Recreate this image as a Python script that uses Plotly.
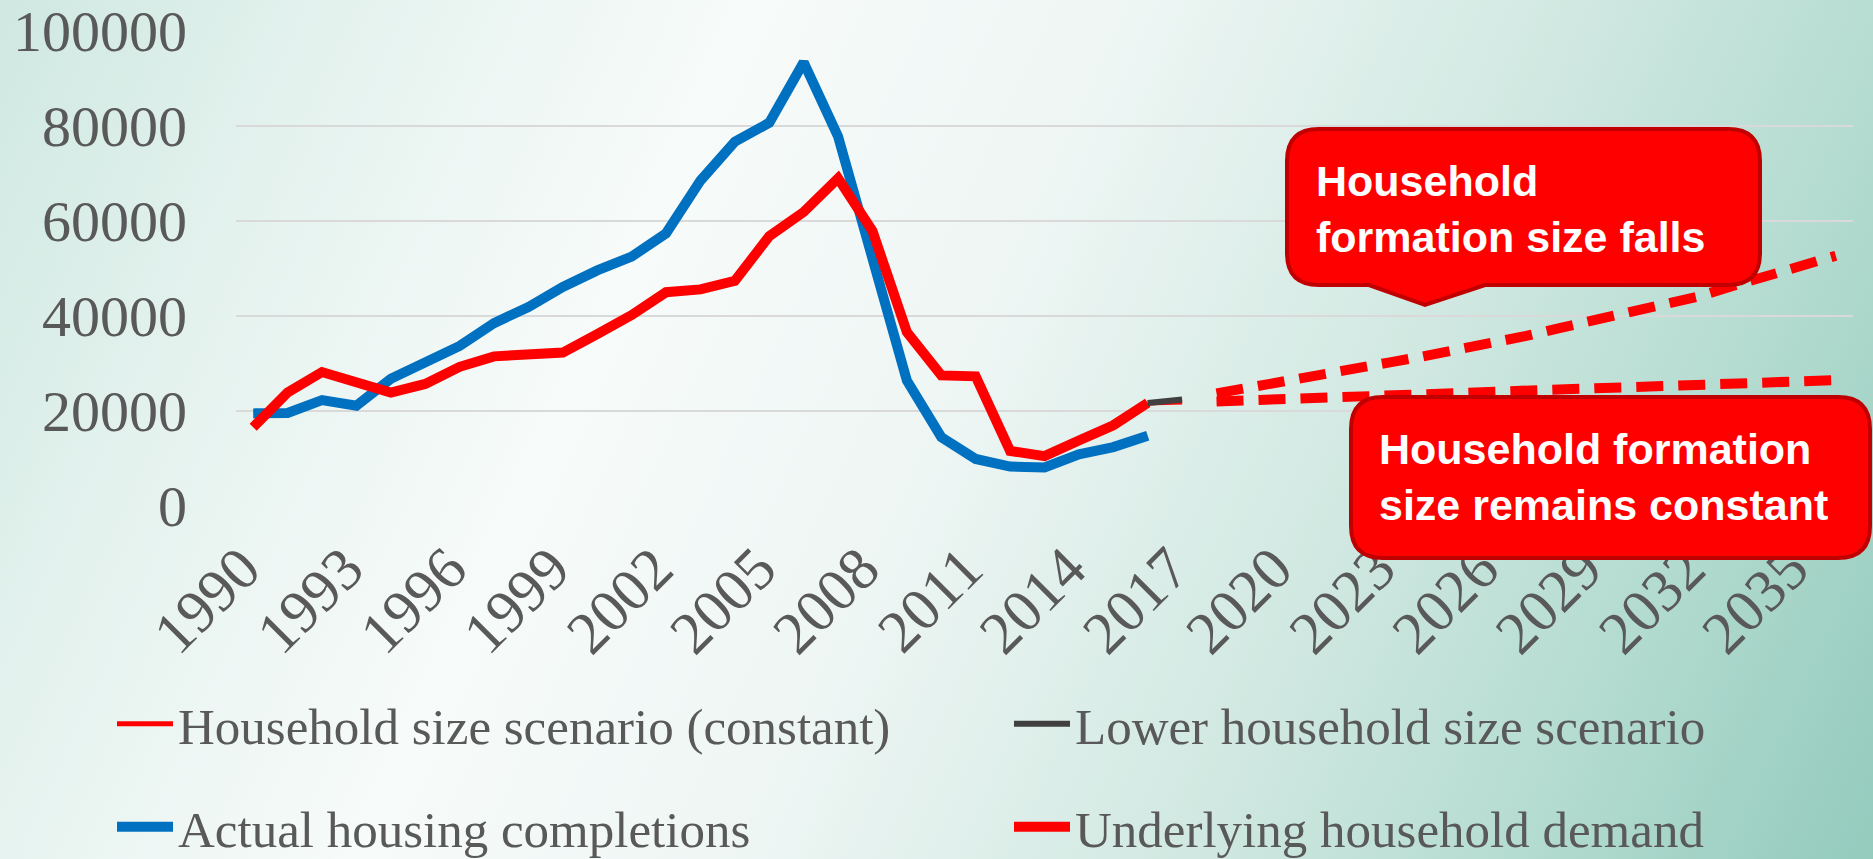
import base64
import plotly.graph_objects as go

# ---------------- data ----------------
years_hist = list(range(1990, 2017))
actual_completions = [19500, 19600, 22300, 21100, 26800, 30500, 33700, 38500, 41900, 46100,
                      49600, 52500, 57400, 68500, 76700, 80700, 93400, 77800, 51700, 26400,
                      14500, 9900, 8300, 8100, 10900, 12400, 14800]
underlying_demand = [16600, 23900, 28200, 26100, 23900, 25700, 29300, 31500, 32000, 32300,
                     36200, 40200, 45000, 45600, 47400, 56800, 61900, 69000, 57900, 36600,
                     27500, 27300, 11600, 10500, 13800, 17000, 21700]

years_bridge = [2016, 2017]
constant_bridge = [21700, 21900]
lower_bridge = [21700, 22400]

years_proj = list(range(2018, 2037))
lower_proj = [23700, 24900, 26200, 27500, 28800, 30200, 31500, 32800, 34300, 35800,
              37500, 39100, 40600, 42300, 44100, 46300, 48500, 50600, 52700]
constant_proj = [22000, 22300, 22500, 22800, 23000, 23300, 23500, 23800, 24000, 24300,
                 24500, 24800, 25000, 25300, 25500, 25800, 26000, 26300, 26500]

tick_years = list(range(1990, 2036, 3))
tick_labels = [str(y) for y in tick_years]
y_ticks = [0, 20000, 40000, 60000, 80000, 100000]

legend_names = ["Household size scenario (constant)", "Lower household size scenario",
                "Actual housing completions", "Underlying household demand"]
callout_falls = "Household<br>formation size falls"
callout_constant = "Household formation<br>size remains constant"

# ---------------- layout geometry ----------------
W, H = 1873, 859
ML, MR, MT, MB = 236, 20, 31, 353
PW, PH = W - ML - MR, H - MT - MB


def px(x):
    return (x - ML) / PW


def py(y):
    return (H - MB - y) / PH


RED = "#ff0000"
BLUE = "#0070c0"
GRAY = "#404040"
TXT = "#595959"

fig = go.Figure()
fig.add_trace(go.Scatter(x=years_hist, y=actual_completions, mode="lines", name=legend_names[2],
                         line=dict(color=BLUE, width=10), legend="legend2"))
fig.add_trace(go.Scatter(x=years_hist, y=underlying_demand, mode="lines", name=legend_names[3],
                         line=dict(color=RED, width=10), legend="legend2"))
fig.add_trace(go.Scatter(x=years_bridge, y=constant_bridge, mode="lines", name=legend_names[0],
                         line=dict(color=RED, width=5), legend="legend"))
fig.add_trace(go.Scatter(x=years_bridge, y=lower_bridge, mode="lines", name=legend_names[1],
                         line=dict(color=GRAY, width=6), legend="legend"))
fig.add_trace(go.Scatter(x=years_proj, y=constant_proj, mode="lines", showlegend=False,
                         line=dict(color=RED, width=10, dash="27px,15px")))
fig.add_trace(go.Scatter(x=years_proj, y=lower_proj, mode="lines", showlegend=False,
                         line=dict(color=RED, width=10, dash="27px,15px")))

# background gradient via svg
svg = f'''<svg xmlns="http://www.w3.org/2000/svg" width="{W}" height="{H}" viewBox="0 0 {W} {H}" preserveAspectRatio="none">
<defs><linearGradient id="g" gradientUnits="userSpaceOnUse" x1="0" y1="0" x2="{W}" y2="{H}">
<stop offset="0" stop-color="#cfe8e1"/>
<stop offset="0.15" stop-color="#e4f2ee"/>
<stop offset="0.33" stop-color="#f7fbfa"/>
<stop offset="0.5" stop-color="#eef6f4"/>
<stop offset="0.7" stop-color="#d0e8e1"/>
<stop offset="0.85" stop-color="#b3dbcf"/>
<stop offset="1" stop-color="#93cbbd"/>
</linearGradient></defs>
<rect x="0" y="0" width="{W}" height="{H}" fill="url(#g)"/></svg>'''
svg_uri = "data:image/svg+xml;base64," + base64.b64encode(svg.encode()).decode()


def rounded_path(x0, y0, x1, y1, r, pointer=None):
    def P(x, y):
        return f"{px(x):.5f},{py(y):.5f}"
    d = f"M{P(x0 + r, y0)} L{P(x1 - r, y0)} Q{P(x1, y0)} {P(x1, y0 + r)} L{P(x1, y1 - r)} Q{P(x1, y1)} {P(x1 - r, y1)}"
    if pointer:
        pr, pl, ax, ay = pointer
        d += f" L{P(pr, y1)} L{P(ax, ay)} L{P(pl, y1)}"
    d += f" L{P(x0 + r, y1)} Q{P(x0, y1)} {P(x0, y1 - r)} L{P(x0, y0 + r)} Q{P(x0, y0)} {P(x0 + r, y0)} Z"
    return d


shapes = [
    dict(type="path", xref="paper", yref="paper", layer="above",
         path=rounded_path(1287, 129, 1760, 285, 32, pointer=(1485, 1369, 1425, 305)),
         fillcolor=RED, line=dict(color="#c00000", width=4)),
    dict(type="path", xref="paper", yref="paper", layer="above",
         path=rounded_path(1351, 397, 1870, 558, 32),
         fillcolor=RED, line=dict(color="#c00000", width=4)),
]

annotations = [
    dict(xref="paper", yref="paper", x=px(1314), y=py(209), xanchor="left", yanchor="middle",
         text=callout_falls, showarrow=False, align="left",
         font=dict(family="Liberation Sans", size=43, color="white", weight="bold")),
    dict(xref="paper", yref="paper", x=px(1377), y=py(477), xanchor="left", yanchor="middle",
         text=callout_constant, showarrow=False, align="left",
         font=dict(family="Liberation Sans", size=43, color="white", weight="bold")),
]

legend_font = dict(family="Liberation Serif", size=51, color=TXT)
fig.update_layout(
    width=W, height=H, autosize=False,
    margin=dict(l=ML, r=MR, t=MT, b=MB, autoexpand=False),
    paper_bgcolor="rgba(0,0,0,0)", plot_bgcolor="rgba(0,0,0,0)",
    images=[dict(source=svg_uri, xref="paper", yref="paper", x=px(0), y=py(0),
                 sizex=W / PW, sizey=H / PH, xanchor="left", yanchor="top",
                 sizing="stretch", layer="below")],
    xaxis=dict(range=[1989.5, 2036.5], tickmode="array", tickvals=tick_years, ticktext=tick_labels,
               tickangle=-45, showgrid=False, zeroline=False, showline=False,
               tickfont=dict(family="Liberation Serif", size=60, color=TXT), ticklabelstandoff=14,
               ticklabelshift=-11, ticklabeloverflow="allow"),
    yaxis=dict(range=[0, 100000], tickmode="array", tickvals=y_ticks, ticktext=[str(v) for v in y_ticks],
               showgrid=True, gridcolor="#d9d9d9", gridwidth=2, zeroline=False, showline=False,
               tickfont=dict(family="Liberation Serif", size=58, color=TXT), ticklabelstandoff=48,
               ticklabeloverflow="allow"),
    legend=dict(orientation="h", x=px(112), y=py(724), xanchor="left", yanchor="middle",
                font=legend_font, entrywidth=826, entrywidthmode="pixels", itemwidth=56,
                bgcolor="rgba(0,0,0,0)", traceorder="normal"),
    legend2=dict(orientation="h", x=px(112), y=py(827), xanchor="left", yanchor="middle",
                 font=legend_font, entrywidth=826, entrywidthmode="pixels", itemwidth=56,
                 bgcolor="rgba(0,0,0,0)", traceorder="normal"),
    shapes=shapes, annotations=annotations,
)

fig.write_html("out.html", config={"displayModeBar": False},
               post_script="document.body.style.margin='0';document.body.style.overflow='hidden';")
